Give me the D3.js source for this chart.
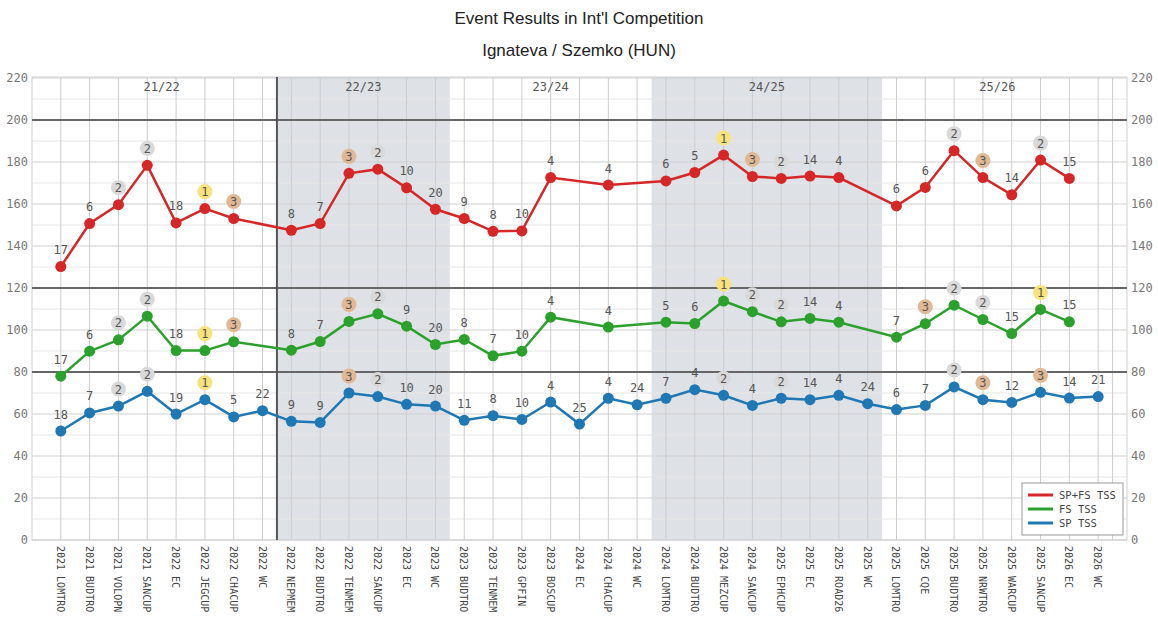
<!DOCTYPE html>
<html>
<head>
<meta charset="utf-8">
<script src="https://cdn.jsdelivr.net/npm/d3@7"></script>
<style>
  body { margin: 0; background: #fff; }
  text { font-family: "DejaVu Sans Mono", monospace; }
</style>
</head>
<body>
<div id="chart"></div>
<script>

var events = [
  "2021 LOMTRO", "2021 BUDTRO", "2021 VOLOPN", "2021 SANCUP", "2022 EC", "2022 JEGCUP", "2022 CHACUP", "2022 WC",
  "2022 NEPMEM", "2022 BUDTRO", "2022 TENMEM", "2022 SANCUP", "2023 EC", "2023 WC",
  "2023 BUDTRO", "2023 TENMEM", "2023 GPFIN", "2023 BOSCUP", "2024 EC", "2024 CHACUP", "2024 WC",
  "2024 LOMTRO", "2024 BUDTRO", "2024 MEZCUP", "2024 SANCUP", "2025 EPHCUP", "2025 EC", "2025 ROAD26", "2025 WC",
  "2025 LOMTRO", "2025 CQE", "2025 BUDTRO", "2025 NRWTRO", "2025 WARCUP", "2025 SANCUP", "2026 EC", "2026 WC"
];
var seasons = ["21/22", "22/23", "23/24", "24/25", "25/26"];
var seasonSize = [8, 6, 7, 8, 8];
var shadedSeasons = ["22/23", "24/25"];
var yTicks = [0, 20, 40, 60, 80, 100, 120, 140, 160, 180, 200, 220];
var sectionLines = [80, 120, 200];

var totalScore = [130.2, 150.7, 159.7, 178.4, 151.0, 157.8, 153.1, null,
  147.5, 150.7, 174.6, 176.6, 167.7, 157.5,
  153.1, 147.0, 147.2, 172.6, null, 169.0, null,
  171.0, 175.0, 183.3, 173.1, 172.2, 173.3, 172.6, null,
  159.1, 167.9, 185.4, 172.6, 164.4, 180.9, 172.2, null];
var totalRank = [17, 6, 2, 2, 18, 1, 3, null,
  8, 7, 3, 2, 10, 20,
  9, 8, 10, 4, null, 4, null,
  6, 5, 1, 3, 2, 14, 4, null,
  6, 6, 2, 3, 14, 2, 15, null];

var fsScore = [78.0, 89.9, 95.3, 106.6, 90.2, 90.2, 94.4, null,
  90.4, 94.5, 104.1, 107.7, 101.8, 93.1,
  95.5, 87.7, 89.9, 106.1, null, 101.4, null,
  103.7, 103.1, 113.8, 108.7, 103.9, 105.5, 103.7, null,
  96.6, 103.0, 111.8, 105.0, 98.3, 109.8, 103.9, null];
var fsRank = [17, 6, 2, 2, 18, 1, 3, null,
  8, 7, 3, 2, 9, 20,
  8, 7, 10, 4, null, 4, null,
  5, 6, 1, 2, 2, 14, 4, null,
  7, 3, 2, 2, 15, 1, 15, null];

var spScore = [51.9, 60.5, 63.8, 70.8, 60.0, 66.8, 58.6, 61.6,
  56.5, 56.0, 70.0, 68.3, 64.6, 63.8,
  57.0, 59.2, 57.4, 65.7, 55.2, 67.5, 64.4,
  67.5, 71.6, 68.9, 64.1, 67.5, 66.8, 68.9, 64.9,
  62.1, 64.1, 72.9, 66.8, 65.5, 70.3, 67.6, 68.3];
var spRank = [18, 7, 2, 2, 19, 1, 5, 22,
  9, 9, 3, 2, 10, 20,
  11, 8, 10, 4, 25, 4, 24,
  7, 4, 2, 4, 2, 14, 4, 24,
  6, 7, 2, 3, 12, 3, 14, 21];

var seriesNames = ["SP+FS  TSS", "FS  TSS", "SP  TSS"];
var seriesColors = ["#d62728", "#2ca02c", "#1f77b4"];
var medalColors = {1: "#f8e27c", 2: "#d9d9d9", 3: "#e0b894"};

var W = 1158, H = 617;
var plot = {left: 32, right: 1127, top: 77, bottom: 540};

var svg = d3.select("#chart").append("svg").attr("width", W).attr("height", H);

var x = d3.scalePoint().domain(events).range([plot.left, plot.right]).padding(1);
var step = x.step();
var y = d3.scaleLinear().domain([0, 220]).range([plot.bottom, 78]);

// season spans
var spans = [];
var start = 0;
seasons.forEach(function(s, i){
  var a = events[start], b = events[start + seasonSize[i] - 1];
  spans.push({name: s, x0: x(a) - step / 2, x1: x(b) + step / 2, mid: (x(a) + x(b)) / 2});
  start += seasonSize[i];
});

svg.selectAll("rect.season")
  .data(spans.filter(function(d){ return shadedSeasons.indexOf(d.name) >= 0; }))
  .enter().append("rect")
  .attr("x", function(d){ return d.x0; })
  .attr("y", plot.top)
  .attr("width", function(d){ return d.x1 - d.x0; })
  .attr("height", plot.bottom - plot.top)
  .style("fill", "#dee2e7");

// horizontal grid every 10
svg.append("g").selectAll("line")
  .data(d3.range(0, 221, 10))
  .enter().append("line")
  .attr("x1", plot.left).attr("x2", plot.right)
  .attr("y1", function(d){ return y(d); }).attr("y2", function(d){ return y(d); })
  .style("stroke", function(d){ return d % 20 === 0 ? "#cfcfcf" : "#e6e6e6"; })
  .style("stroke-width", 1);

// vertical grid at each event
svg.append("g").selectAll("line")
  .data(events)
  .enter().append("line")
  .attr("x1", function(d){ return x(d); }).attr("x2", function(d){ return x(d); })
  .attr("y1", plot.top).attr("y2", plot.bottom)
  .style("stroke", "#cccccc")
  .style("stroke-width", 1);

svg.append("line")
  .attr("x1", spans[4].x1).attr("x2", spans[4].x1)
  .attr("y1", plot.top).attr("y2", plot.bottom)
  .style("stroke", "#cccccc");

// frame
svg.append("rect")
  .attr("x", plot.left).attr("y", plot.top)
  .attr("width", plot.right - plot.left).attr("height", plot.bottom - plot.top)
  .style("fill", "none").style("stroke", "#d0d0d0");

// section lines
svg.append("g").selectAll("line")
  .data(sectionLines)
  .enter().append("line")
  .attr("x1", plot.left).attr("x2", plot.right)
  .attr("y1", function(d){ return y(d); }).attr("y2", function(d){ return y(d); })
  .style("stroke", "#666")
  .style("stroke-width", 2);

svg.append("line")
  .attr("x1", spans[0].x1).attr("x2", spans[0].x1)
  .attr("y1", plot.top).attr("y2", plot.bottom)
  .style("stroke", "#555")
  .style("stroke-width", 2);

// season names
svg.append("g").selectAll("text")
  .data(spans)
  .enter().append("text")
  .attr("x", function(d){ return d.mid; })
  .attr("y", 91)
  .attr("text-anchor", "middle")
  .style("font-size", "12px")
  .style("fill", "#555")
  .text(function(d){ return d.name; });

// axes
var leftAxis = svg.append("g")
  .attr("transform", "translate(" + plot.left + ",0)")
  .call(d3.axisLeft(y).tickValues(yTicks).tickSize(0).tickPadding(4));
var rightAxis = svg.append("g")
  .attr("transform", "translate(" + plot.right + ",0)")
  .call(d3.axisRight(y).tickValues(yTicks).tickSize(0).tickPadding(4));
[leftAxis, rightAxis].forEach(function(g){
  g.select(".domain").remove();
  g.selectAll("text")
    .style("font-family", "DejaVu Sans Mono, monospace")
    .style("font-size", "12px")
    .style("fill", "#777");
});

svg.append("g").selectAll("text")
  .data(events)
  .enter().append("text")
  .attr("transform", function(d){ return "translate(" + (x(d) - 4) + "," + (plot.bottom + 6) + ") rotate(90)"; })
  .attr("text-anchor", "start")
  .style("font-size", "10px")
  .style("fill", "#444")
  .text(function(d){ return d; });

// series
var series = [
  {score: totalScore, rank: totalRank},
  {score: fsScore, rank: fsRank},
  {score: spScore, rank: spRank}
];

var line = d3.line()
  .defined(function(d){ return d.v !== null; })
  .x(function(d){ return x(d.e); })
  .y(function(d){ return y(d.v); });

series.forEach(function(s, k){
  var pts = events.map(function(e, i){ return {e: e, v: s.score[i], r: s.rank[i]}; });
  var valid = pts.filter(function(d){ return d.v !== null; });
  var g = svg.append("g");
  g.append("path")
    .datum(valid)
    .attr("d", line)
    .style("fill", "none")
    .style("stroke", seriesColors[k])
    .style("stroke-width", 2.5);
  g.selectAll("circle.pt")
    .data(valid)
    .enter().append("circle")
    .attr("cx", function(d){ return x(d.e); })
    .attr("cy", function(d){ return y(d.v); })
    .attr("r", 5.5)
    .style("fill", seriesColors[k]);
  g.selectAll("circle.medal")
    .data(valid.filter(function(d){ return d.r <= 3; }))
    .enter().append("circle")
    .attr("cx", function(d){ return x(d.e); })
    .attr("cy", function(d){ return y(d.v) - 17; })
    .attr("r", 7.5)
    .style("fill", function(d){ return medalColors[d.r]; });
  g.selectAll("text")
    .data(valid)
    .enter().append("text")
    .attr("x", function(d){ return x(d.e); })
    .attr("y", function(d){ return y(d.v) - 12.5; })
    .attr("text-anchor", "middle")
    .style("font-size", "12px")
    .style("fill", "#555")
    .text(function(d){ return d.r; });
});

// legend
var lg = svg.append("g").attr("transform", "translate(1022,483)");
lg.append("rect").attr("width", 101).attr("height", 52)
  .style("fill", "#fff").style("stroke", "#999");
seriesNames.forEach(function(n, i){
  lg.append("line")
    .attr("x1", 6).attr("x2", 31)
    .attr("y1", 12 + i * 14).attr("y2", 12 + i * 14)
    .style("stroke", seriesColors[i]).style("stroke-width", 3);
  lg.append("text")
    .attr("x", 37).attr("y", 16 + i * 14)
    .style("font-size", "10.5px")
    .style("fill", "#444")
    .text(n);
});

// titles
svg.append("text")
  .attr("x", 579).attr("y", 24)
  .attr("text-anchor", "middle")
  .style("font-family", "Liberation Sans, Arial, sans-serif")
  .style("font-size", "17px")
  .style("fill", "#222")
  .text("Event Results in Int'l Competition");
svg.append("text")
  .attr("x", 579).attr("y", 56)
  .attr("text-anchor", "middle")
  .style("font-family", "Liberation Sans, Arial, sans-serif")
  .style("font-size", "17px")
  .style("fill", "#222")
  .text("Ignateva / Szemko (HUN)");

</script>
</body>
</html>
